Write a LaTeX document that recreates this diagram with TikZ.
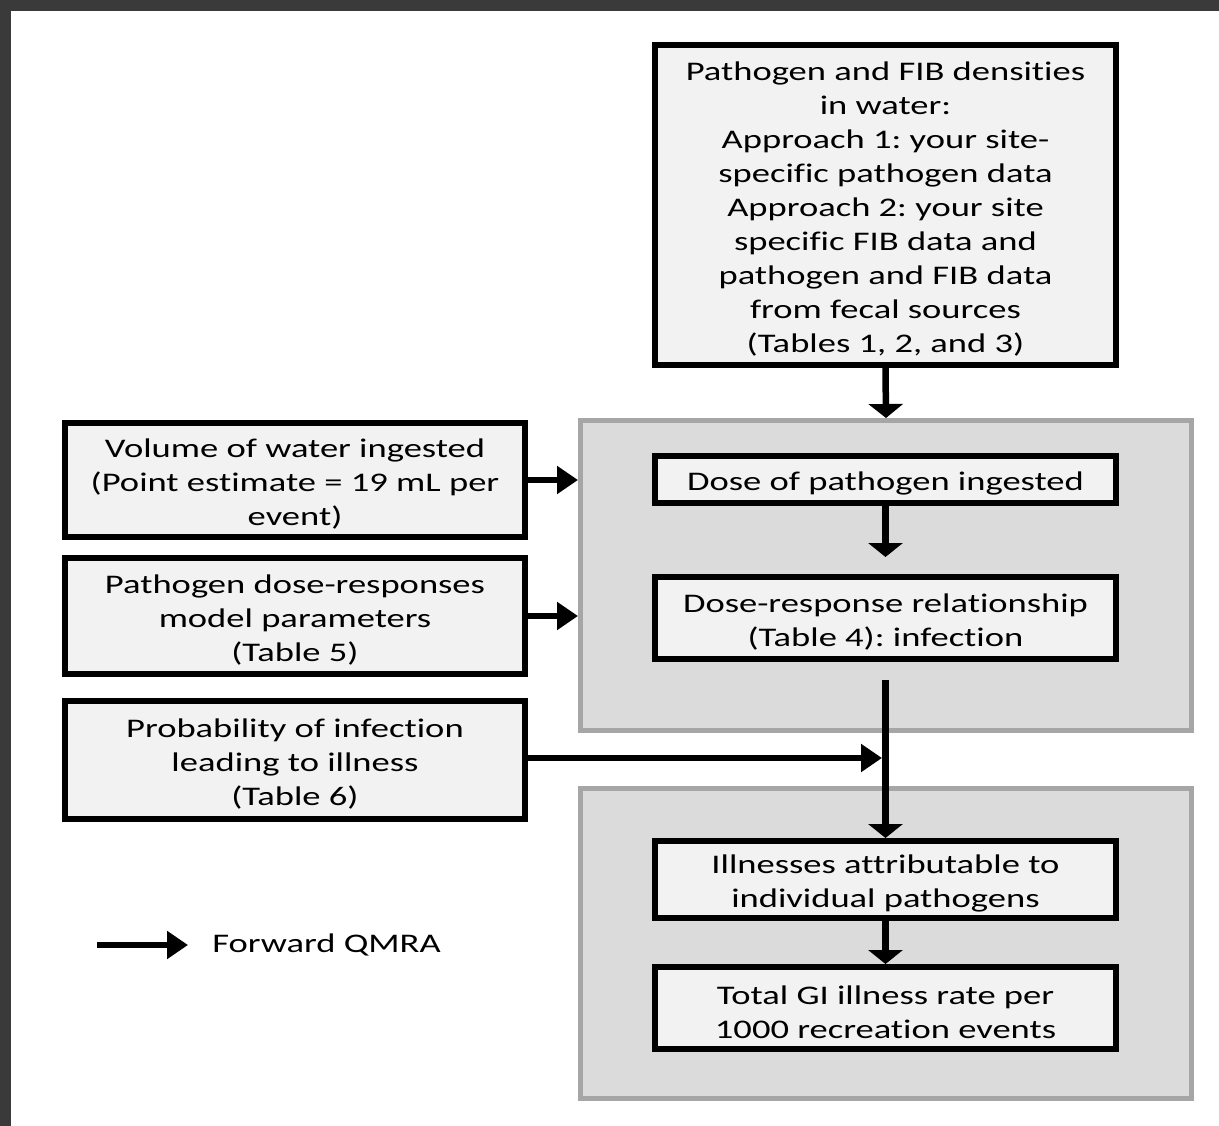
\documentclass[tikz,border=0pt]{standalone}
\usepackage{fontspec}
\setmainfont{Carlito}[FakeStretch=1.36, Ligatures={NoCommon}]
\usepackage{tikz}
\usetikzlibrary{arrows.meta,positioning}
\definecolor{FrameDark}{HTML}{3A3A3A}
\definecolor{BoxFill}{HTML}{F2F2F2}
\definecolor{GroupFill}{HTML}{DBDBDB}
\definecolor{GroupLine}{HTML}{A6A6A6}
\newcommand{\liftline}{\rule{0pt}{0.55cm}}
\frenchspacing

\begin{document}
\begin{tikzpicture}[
  inbox/.style={draw=black, line width=0.12cm, fill=BoxFill,
                minimum width=9.22cm, inner sep=0pt, align=center,
                font=\fontsize{15.3}{19.35}\selectfont},
  group/.style={draw=GroupLine, line width=0.1cm, fill=GroupFill,
                minimum width=12.22cm, minimum height=6.2cm},
  hflow/.style={-{Triangle[length=0.42cm, width=0.54cm]}, line width=0.13cm},
  vflow/.style={-{Triangle[length=0.28cm, width=0.68cm]}, line width=0.13cm}
]
\useasboundingbox (0,0) rectangle (24.38,-22.52);
\fill[FrameDark] (0,0) rectangle (24.38,-22.52);
\fill[white] (0.22,-0.22) rectangle (24.38,-22.52);

\node[group] (cont1) at (17.72,-11.51) {};
\node[group] (cont2) at (17.72,-18.87) {};

\node[inbox, minimum height=6.4cm] (dens) at (17.71,-4.10)
  {\liftline Pathogen and FIB densities\\ in water:\\ Approach 1: your site-\\
   specific pathogen data\\ Approach 2: your site\\ specific FIB data and\\
   pathogen and FIB data\\ from fecal sources\\ (Tables 1, 2, and 3)};
\node[inbox, minimum height=0.94cm] (dose) at (17.71,-9.59)
  {\liftline Dose of pathogen ingested};
\node[inbox, minimum height=1.64cm] (resp) at (17.71,-12.36)
  {\liftline Dose-response relationship\\ (Table 4): infection};
\node[inbox, minimum height=1.54cm] (ill) at (17.71,-17.59)
  {\liftline Illnesses attributable to\\ individual pathogens};
\node[inbox, minimum height=1.64cm] (total) at (17.71,-20.16)
  {\liftline Total GI illness rate per\\ 1000 recreation events};

\node[inbox, minimum width=9.2cm, minimum height=2.28cm] (vol) at (5.90,-9.60)
  {\liftline Volume of water ingested\\ (Point estimate = 19 mL per\\ event)};
\node[inbox, minimum width=9.2cm, minimum height=2.32cm] (param) at (5.90,-12.32)
  {\liftline Pathogen dose-responses\\ model parameters\\ (Table 5)};
\node[inbox, minimum width=9.2cm, minimum height=2.36cm] (prob) at (5.90,-15.20)
  {\liftline Probability of infection\\ leading to illness\\ (Table 6)};

% main flow
\coordinate (flowtop) at (17.71,-13.60);
\coordinate (flowmeet) at (17.64,-15.16);
\draw[vflow] (dens.south) -- (cont1.north);
\draw[vflow] (dose.south) -- ([yshift=0.34cm]resp.north);
\draw[vflow] (flowtop) -- (ill.north);
\draw[vflow] (ill.south) -- (total.north);
\draw[hflow] (vol.east) -- (vol.east -| cont1.west);
\draw[hflow] (param.east) -- (param.east -| cont1.west);
\draw[hflow] (prob.east |- flowmeet) -- (flowmeet);

% legend
\node[inner sep=0pt, anchor=west, font=\fontsize{15.3}{19.35}\selectfont]
  (legtext) at (4.24,-18.90) {Forward QMRA};
\coordinate (legstart) at (1.94,-18.90);
\draw[hflow] (legstart) -- ([xshift=-0.48cm]legtext.west);
\end{tikzpicture}
\end{document}
